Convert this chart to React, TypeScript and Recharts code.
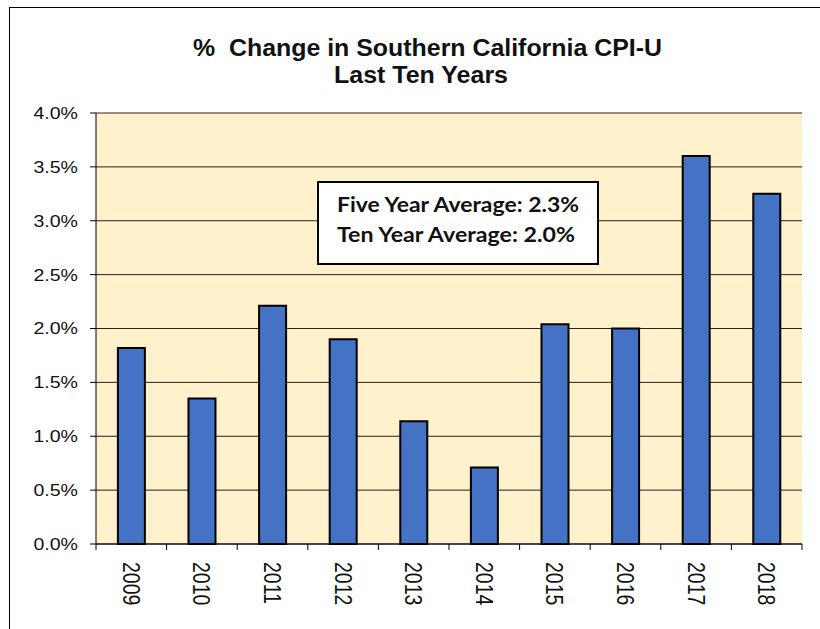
import React from "react";
import { Bar, BarChart, CartesianGrid, XAxis, YAxis } from "recharts";

const years = ["2009", "2010", "2011", "2012", "2013", "2014", "2015", "2016", "2017", "2018"];
const cpiChange = [1.82, 1.35, 2.21, 1.9, 1.14, 0.71, 2.04, 2.0, 3.6, 3.25];
const yTicks = [0, 0.5, 1, 1.5, 2, 2.5, 3, 3.5, 4];
const titleLines = ["%\u00a0\u00a0Change in Southern California CPI-U", "Last Ten Years"];
const noteLines = ["Five Year Average: 2.3%", "Ten Year Average: 2.0%"];

const W = 820;
const H = 629;
const PLOT_LEFT = 96;
const PLOT_RIGHT = 18;
const PLOT_TOP = 113;
const X_AXIS_H = 85;
const FONT = "'Liberation Sans', Arial, sans-serif";

const data = years.map((year, i) => ({ year, value: cpiChange[i] }));

function PercentTick(props: any) {
  const { x, y, payload } = props;
  return (
    <text
      transform={`translate(${x},${y}) scale(1.15,1)`}
      textAnchor="end"
      dy="0.35em"
      fontFamily={FONT}
      fontSize={17}
      fill="#111"
    >
      {`${Number(payload.value).toFixed(1)}%`}
    </text>
  );
}

function YearTick(props: any) {
  const { x, y, payload, index } = props;
  // tick marks sit on the category boundaries, like the Excel original
  const half = (W - PLOT_LEFT - PLOT_RIGHT) / years.length / 2;
  return (
    <g>
      <line x1={x - half} x2={x - half} y1={y} y2={y + 6} stroke="#000" />
      {index === years.length - 1 && <line x1={x + half} x2={x + half} y1={y} y2={y + 6} stroke="#000" />}
      <text
        transform={`translate(${x},${y + 18}) rotate(90) scale(1,1.25)`}
        textAnchor="start"
        dy="0.35em"
        fontFamily={FONT}
        fontSize={19.5}
        fill="#111"
      >
        {payload.value}
      </text>
    </g>
  );
}

export default function App() {
  return (
    <div style={{ position: "absolute", left: 0, top: 0, width: W, height: H, background: "#fff", overflow: "hidden" }}>
      <div style={{ position: "absolute", left: 8.5, top: 6.5, width: W, height: H, borderTop: "1.5px solid #000", borderLeft: "1.5px solid #000" }} />
      <BarChart
        width={W}
        height={H}
        data={data}
        margin={{ top: PLOT_TOP, right: PLOT_RIGHT, bottom: 0, left: 0 }}
        barCategoryGap="31%"
        style={{ position: "absolute", left: 0, top: 0 }}
      >
        <CartesianGrid vertical={false} stroke="#222" fill="#FFF1CC" fillOpacity={1} />
        <XAxis
          dataKey="year"
          height={X_AXIS_H}
          axisLine={{ stroke: "#000" }}
          tickLine={false}
          tickSize={0}
          tickMargin={0}
          tick={<YearTick />}
          interval={0}
        />
        <XAxis xAxisId="top" dataKey="year" orientation="top" height={0} tick={false} tickLine={false} axisLine={{ stroke: "#999" }} />
        <YAxis
          width={PLOT_LEFT}
          domain={[0, 4]}
          ticks={yTicks}
          interval={0}
          axisLine={{ stroke: "#000" }}
          tickLine={{ stroke: "#000" }}
          tickSize={6}
          tickMargin={12}
          tick={<PercentTick />}
        />
        <YAxis yAxisId="right" orientation="right" width={0} domain={[0, 4]} tick={false} tickLine={false} axisLine={{ stroke: "#999" }} />
        <Bar dataKey="value" fill="#4472C4" stroke="#000" strokeWidth={2} isAnimationActive={false} />
      </BarChart>
      <svg width={W} height={H} style={{ position: "absolute", left: 0, top: 0, pointerEvents: "none" }}>
        <text x={427.5} y={55.5} textAnchor="middle" fontFamily={FONT} fontWeight="bold" fontSize={23} fill="#111" textLength={469} lengthAdjust="spacingAndGlyphs">
          {titleLines[0]}
        </text>
        <text x={421} y={82.7} textAnchor="middle" fontFamily={FONT} fontWeight="bold" fontSize={23} fill="#111" textLength={174} lengthAdjust="spacingAndGlyphs">
          {titleLines[1]}
        </text>
        <rect x={318} y={182} width={280} height={82} fill="#fff" stroke="#000" strokeWidth={2} />
        <text x={337} y={212} fontFamily="Lato, 'Open Sans', sans-serif" fontWeight="bold" fontSize={20} fill="#111" textLength={242} lengthAdjust="spacingAndGlyphs">
          {noteLines[0]}
        </text>
        <text x={337} y={242} fontFamily="Lato, 'Open Sans', sans-serif" fontWeight="bold" fontSize={20} fill="#111" textLength={238} lengthAdjust="spacingAndGlyphs">
          {noteLines[1]}
        </text>
      </svg>
    </div>
  );
}
